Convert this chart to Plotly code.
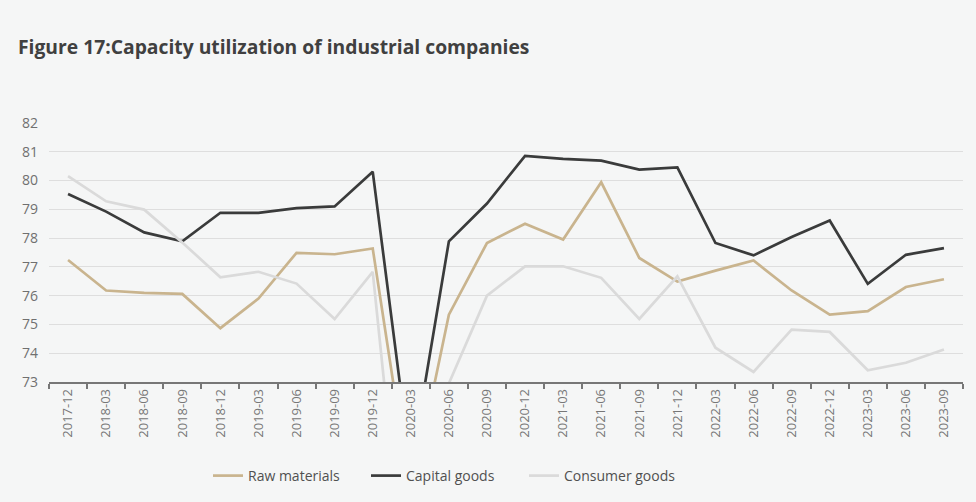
import plotly.graph_objects as go

quarters = [
    "2017-12", "2018-03", "2018-06", "2018-09", "2018-12", "2019-03", "2019-06",
    "2019-09", "2019-12", "2020-03", "2020-06", "2020-09", "2020-12", "2021-03",
    "2021-06", "2021-09", "2021-12", "2022-03", "2022-06", "2022-09", "2022-12",
    "2023-03", "2023-06", "2023-09",
]

raw_materials = [
    77.24, 76.18, 76.10, 76.06, 74.87, 75.90, 77.49, 77.44, 77.64, 69.0,
    75.34, 77.83, 78.50, 77.95, 79.94, 77.31, 76.49, 76.87, 77.22, 76.18,
    75.34, 75.46, 76.30, 76.57,
]

capital_goods = [
    79.53, 78.92, 78.20, 77.89, 78.88, 78.88, 79.04, 79.10, 80.31, 70.0,
    77.89, 79.20, 80.86, 80.75, 80.69, 80.38, 80.46, 77.83, 77.40, 78.04,
    78.61, 76.41, 77.42, 77.65,
]

consumer_goods = [
    80.15, 79.28, 78.99, 77.85, 76.64, 76.83, 76.42, 75.19, 76.83, 64.0,
    72.95, 76.00, 77.02, 77.02, 76.62, 75.19, 76.67, 74.19, 73.35, 74.82,
    74.74, 73.41, 73.67, 74.13,
]

y_ticks = [73, 74, 75, 76, 77, 78, 79, 80, 81, 82]

series = [
    ("Raw materials", raw_materials, "#c9b48e"),
    ("Capital goods", capital_goods, "#3a3b3b"),
    ("Consumer goods", consumer_goods, "#dadada"),
]

fig = go.Figure()
for name, values, color in series:
    fig.add_trace(go.Scatter(
        x=quarters, y=values, name=name, mode="lines",
        line=dict(color=color, width=2.7),
    ))

bg = "#f5f6f6"
font_family = "Open Sans, Noto Sans, sans-serif"

fig.update_layout(
    width=976, height=502,
    paper_bgcolor=bg, plot_bgcolor=bg,
    margin=dict(l=49, r=13, t=123, b=120, autoexpand=False),
    font=dict(family=font_family, color="#666666"),
    title=dict(
        text="<b>Figure 17:Capacity utilization of industrial companies</b>",
        x=18 / 976, xanchor="left", xref="container",
        y=1 - 47 / 502, yanchor="middle", yref="container",
        font=dict(size=19.3, color="#404040", family=font_family),
    ),
    legend=dict(
        orientation="h", x=(208 - 49) / 914, xanchor="left",
        y=(502 - 476) / 502, yanchor="middle", yref="container",
        font=dict(size=14, color="#505050"), bgcolor="rgba(0,0,0,0)",
        entrywidth=113, entrywidthmode="pixels", tracegroupgap=0,
    ),
    showlegend=True,
)

fig.update_xaxes(
    type="category", categoryorder="array", categoryarray=quarters,
    range=[-0.5, len(quarters) - 0.5],
    tickangle=-90, tickson="boundaries", ticks="outside", ticklen=5,
    tickcolor="#777777", tickwidth=1.5,
    showline=True, linecolor="#777777", linewidth=1.5,
    showgrid=False, tickfont=dict(size=13, color="#777777"),
)

fig.update_yaxes(
    range=[73, 82], tickvals=y_ticks, showgrid=True, gridcolor="#dedede",
    gridwidth=1, zeroline=False, showline=False,
    tickfont=dict(size=14, color="#707070"), ticks="", ticklabelstandoff=10,
)

fig.write_html("out.html")
